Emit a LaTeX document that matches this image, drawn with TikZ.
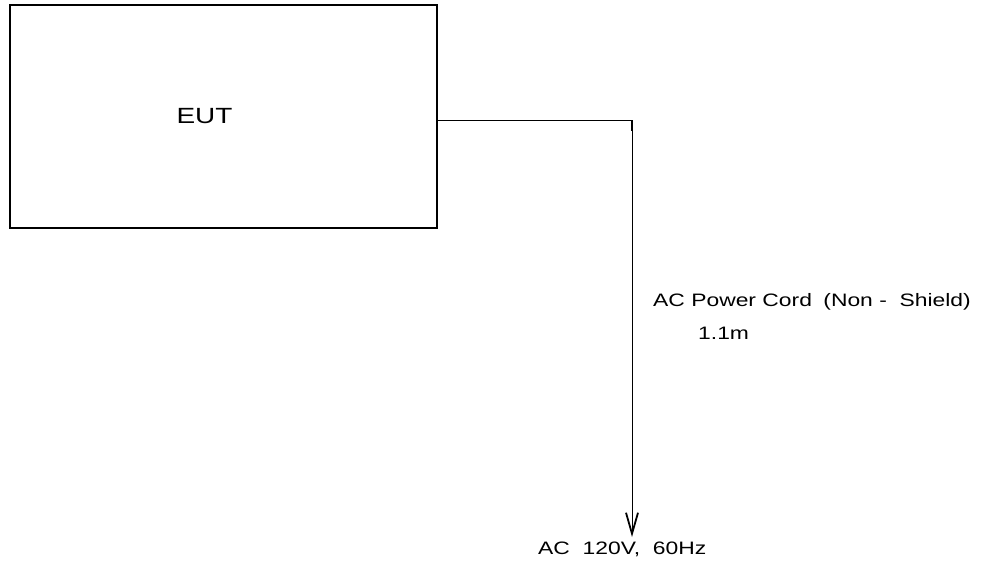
\documentclass[tikz,border=0pt]{standalone}
\usepackage{fontspec}
\setmainfont{Liberation Sans}
\usetikzlibrary{arrows.meta}
\newcommand{\widetxt}[1]{\scalebox{1.27}[1]{#1}}

\begin{document}
\begin{tikzpicture}[x=1pt,y=-1pt,
  lbl/.style={inner sep=0pt,anchor=base west,font=\fontsize{18}{21}\selectfont}]
\useasboundingbox (0,0) rectangle (982,570);
\draw[line width=1.6pt] (10,5) rectangle (437,228);
\node[inner sep=0pt,font=\fontsize{22}{26}\selectfont] (eut) at (204.5,116) {\widetxt{EUT}};
\coordinate (out) at (437,120.5);
\coordinate (bend) at (632,120.5);
\coordinate (plug) at (632,537);
\draw[line width=1.3pt] (out) -- (bend) -- ++(0,10);
\draw[line width=1pt,-{Straight Barb[length=21pt,width=12pt,line width=1.8pt]}] (bend) -- (plug);
\node[lbl] (cord) at (653,306) {\widetxt{AC Power Cord\hspace{4pt} (Non -\ \ Shield)}};
\node[lbl] (len) at (698,339) {\widetxt{1.1m}};
\node[lbl] (mains) at (538,554) {\widetxt{AC\ \ 120V,\ \ 60Hz}};
\end{tikzpicture}
\end{document}
